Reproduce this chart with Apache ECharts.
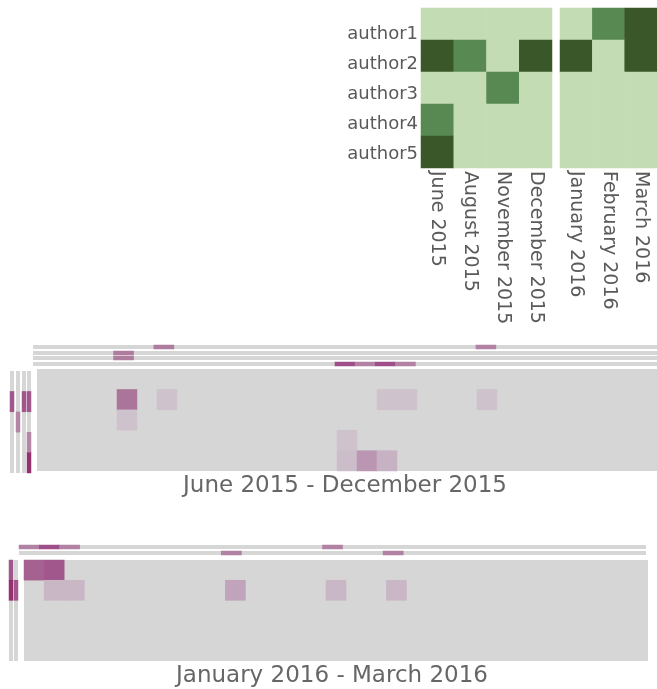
<!DOCTYPE html>
<html>
<head>
<meta charset="utf-8">
<script src="https://cdn.jsdelivr.net/npm/echarts@6/dist/echarts.min.js"></script>
<style>
html,body{margin:0;padding:0;background:#fff}
#main{width:657px;height:689px}
</style>
</head>
<body>
<div id="main"></div>
<script>
// authors + months
var authors = ['author1', 'author2', 'author3', 'author4', 'author5'];
var months2015 = ['June 2015', 'August 2015', 'November 2015', 'December 2015'];
var months2016 = ['January 2016', 'February 2016', 'March 2016'];

// monthly level per author (0 low, 1 mid, 2 high)
var green2015 = [
    [0, 0, 0, 0],
    [2, 1, 0, 2],
    [0, 0, 1, 0],
    [1, 0, 0, 0],
    [2, 0, 0, 0]
];
var green2016 = [
    [0, 1, 2],
    [2, 0, 2],
    [0, 0, 0],
    [0, 0, 0],
    [0, 0, 0]
];

// week columns of the two periods
var weeks2015 = ['w1','w2','w3','w4','w5','w6','w7','w8','w9','w10','w11','w12','w13','w14','w15','w16',
    'w17','w18','w19','w20','w21','w22','w23','w24','w25','w26','w27','w28','w29','w30','w31'];
var weeks2016 = ['d1','d2','d3','d4','d5','d6','d7','d8','d9','d10','d11','d12','d13','d14','d15','d16',
    'd17','d18','d19','d20','d21','d22','d23','d24','d25','d26','d27','d28','d29','d30','d31'];

// matrix cells [column, author, value]
var cells2015 = [[4,1,4],[6,1,1],[17,1,1],[18,1,1],[22,1,1],[4,2,1],[15,3,1],[15,4,1.3],[16,4,3],[17,4,2]];
var cells2016 = [[0,0,4.5],[1,0,4.8],[1,1,1.7],[2,1,1.7],[10,1,2.5],[15,1,1.7],[18,1,1.7]];

// top strips, one list per strip: [column, value]
var strips2015 = [
    [[6,3.8],[22,3.6]],
    [[4,3.8]],
    [[4,3.8]],
    [[15,5],[16,3.6],[17,5],[18,3.6]]
];
var strips2016 = [
    [[0,3.6],[1,5],[2,3.6],[15,3.6]],
    [[10,3.6],[18,3.6]]
];

// side strips, one list per strip: [author, value]
var side2015 = [
    [[1,4.8]],
    [[2,3.5]],
    [[1,4.8]],
    [[1,4.8],[3,3.5],[4,6]]
];
var side2016 = [
    [[0,4.8],[1,6]],
    [[1,4.8]]
];

var labelColor = '#5a5a5a';
var grids = [], xAxes = [], yAxes = [], series = [];

function panel(box, xData, yData, data, bg) {
    var i = grids.length;
    grids.push(Object.assign({show: !!bg, backgroundColor: bg || 'transparent', borderWidth: 0}, box));
    xAxes.push({type: 'category', gridIndex: i, data: xData, show: false});
    yAxes.push({type: 'category', gridIndex: i, data: yData, show: false, inverse: true});
    if (data) {
        series.push({type: 'heatmap', xAxisIndex: i, yAxisIndex: i, data: data});
    }
    return i;
}

function toCells(m) {
    var out = [];
    m.forEach(function (row, r) {
        row.forEach(function (v, c) { out.push([c, r, v]); });
    });
    return out;
}

var monthLabel = {
    show: true, rotate: -90, interval: 0, margin: 3,
    fontSize: 19, fontFamily: 'DejaVu Sans', color: labelColor
};

// top monthly heatmaps
var a = panel({left: 421, top: 8, width: 131, height: 160}, months2015, authors, toCells(green2015));
var b = panel({left: 560, top: 8, width: 97, height: 160}, months2016, authors, toCells(green2016));
[a, b].forEach(function (i) {
    xAxes[i].show = true;
    xAxes[i].axisLine = {show: false};
    xAxes[i].axisTick = {show: false};
    xAxes[i].axisLabel = monthLabel;
});
// author names
var c = panel({left: 421, top: 19, width: 1, height: 150}, ['x'], authors, null);
yAxes[c].show = true;
yAxes[c].axisLine = {show: false};
yAxes[c].axisTick = {show: false};
yAxes[c].axisLabel = {margin: 3, fontSize: 18, fontFamily: 'DejaVu Sans', color: labelColor};

var gray = '#d6d6d6';

// June - December 2015
var stripTops2015 = [345, 351, 356, 362];
strips2015.forEach(function (s, k) {
    panel({left: 33, top: stripTops2015[k], width: 624, height: 4}, weeks2015, ['s'],
        s.map(function (d) { return [d[0], 0, d[1]]; }), gray);
});
panel({left: 37, top: 369, width: 620, height: 102}, weeks2015, authors, cells2015, gray);
var sideLeft2015 = [10, 16, 22, 27];
side2015.forEach(function (s, k) {
    panel({left: sideLeft2015[k], top: 371, width: 4, height: 102}, ['s'], authors,
        s.map(function (d) { return [0, d[0], d[1]]; }), gray);
});

// January - March 2016
var stripTops2016 = [545, 551];
strips2016.forEach(function (s, k) {
    panel({left: 19, top: stripTops2016[k], width: 627, height: 4}, weeks2016, ['s'],
        s.map(function (d) { return [d[0], 0, d[1]]; }), gray);
});
panel({left: 24, top: 560, width: 624, height: 101}, weeks2016, authors, cells2016, gray);
var sideLeft2016 = [9, 14];
side2016.forEach(function (s, k) {
    panel({left: sideLeft2016[k], top: 560, width: 4, height: 101}, ['s'], authors,
        s.map(function (d) { return [0, d[0], d[1]]; }), gray);
});

var purpleIdx = [];
for (var k = 2; k < series.length; k++) purpleIdx.push(k);

var chart = echarts.init(document.getElementById('main'));
chart.setOption({
    animation: false,
    grid: grids,
    xAxis: xAxes,
    yAxis: yAxes,
    visualMap: [{
        type: 'continuous', show: false, seriesIndex: [0, 1], min: 0, max: 2,
        inRange: {color: ['#c4dcb4', '#588952', '#3a572a']}
    }, {
        type: 'continuous', show: false, seriesIndex: purpleIdx, min: 0, max: 6,
        inRange: {color: ['#d6d6d6', '#cec2cc', '#c7b2c4', '#ba96b2', '#ab7599', '#9e4f88', '#93306f']}
    }],
    graphic: [{
        type: 'text', x: 345, y: 486,
        style: {text: 'June 2015 - December 2015', fontSize: 23, fontFamily: 'DejaVu Sans',
            fill: '#666', align: 'center', verticalAlign: 'middle', textAlign: 'center', textVerticalAlign: 'middle'}
    }, {
        type: 'text', x: 332, y: 676,
        style: {text: 'January 2016 - March 2016', fontSize: 23, fontFamily: 'DejaVu Sans',
            fill: '#666', align: 'center', verticalAlign: 'middle', textAlign: 'center', textVerticalAlign: 'middle'}
    }],
    series: series
});
</script>
</body>
</html>
